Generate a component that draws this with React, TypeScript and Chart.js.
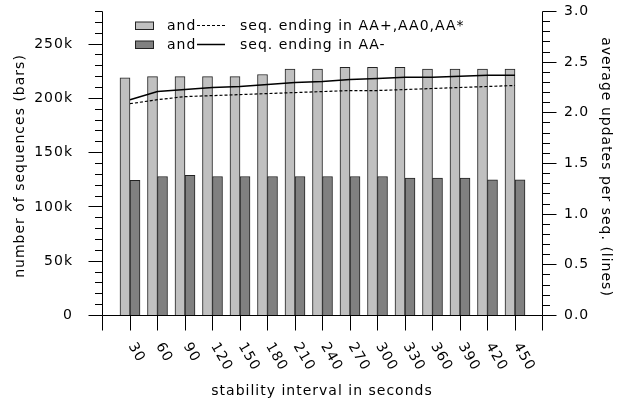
import React, { useEffect, useRef } from 'react';
import { Chart, registerables } from 'chart.js';

Chart.register(...registerables);

// ---------- data ----------
const categories = ['30', '60', '90', '120', '150', '180', '210', '240', '270', '300', '330', '360', '390', '420', '450'];
const seqAAplusCount = [219000, 220000, 220000, 220000, 220000, 222000, 227000, 227000, 228500, 228500, 228500, 227000, 227000, 227000, 227000];
const seqAAminusCount = [124500, 128000, 129000, 128000, 128000, 128000, 128000, 128000, 128000, 128000, 126500, 126500, 126500, 125000, 125000];
const avgUpdatesAAplus = [2.09, 2.13, 2.16, 2.17, 2.18, 2.19, 2.2, 2.21, 2.22, 2.22, 2.23, 2.24, 2.25, 2.26, 2.27];
const avgUpdatesAAminus = [2.13, 2.21, 2.23, 2.25, 2.26, 2.28, 2.3, 2.31, 2.33, 2.34, 2.35, 2.35, 2.36, 2.37, 2.37];

const leftTickValues = [0, 50000, 100000, 150000, 200000, 250000];
const leftTickLabels = ['0', '50k', '100k', '150k', '200k', '250k'];
const rightTickValues = [0, 0.5, 1.0, 1.5, 2.0, 2.5, 3.0];
const rightTickLabels = ['0.0', '0.5', '1.0', '1.5', '2.0', '2.5', '3.0'];

const legendLabelA = 'seq. ending in AA+,AA0,AA*';
const legendLabelB = 'seq. ending in AA-';
const xTitle = 'stability interval in seconds';
const yLeftTitle = 'number of sequences (bars)';
const yRightTitle = 'average updates per seq. (lines)';

// padded with empty slots at both ends (axis runs one step beyond first/last category)
const pad = <T,>(arr: T[]): (T | null)[] => [null, ...arr, null];
const xLabels = ['', ...categories, ''];

const FONT = '14px "DejaVu Sans"';
const LIGHT = '#c0c0c0';
const DARK = '#808080';
const INK = '#000000';

const axesPlugin = {
  id: 'gnuplotAxes',
  afterDraw(chart: any) {
    const ctx: any = chart.ctx;
    const { left, right, top, bottom } = chart.chartArea;
    const xs = chart.scales.x;
    const yl = chart.scales.y;
    const yr = chart.scales.y1;
    const crisp = (v: number) => Math.round(v - 0.5) + 0.5;
    ctx.save();
    ctx.strokeStyle = INK;
    ctx.fillStyle = INK;
    ctx.lineWidth = 1;
    ctx.setLineDash([]);

    // axis lines
    ctx.beginPath();
    ctx.moveTo(left, top);
    ctx.lineTo(left, bottom);
    ctx.moveTo(left, bottom);
    ctx.lineTo(right, bottom);
    ctx.moveTo(right, top);
    ctx.lineTo(right, bottom);
    ctx.stroke();

    // left ticks (minor every 10k, major every 50k)
    ctx.beginPath();
    for (let v = 0; v <= 280000; v += 10000) {
      const y = crisp(yl.getPixelForValue(v));
      const major = v % 50000 === 0;
      ctx.moveTo(left, y);
      ctx.lineTo(left - (major ? 14 : 7.5), y);
    }
    // right ticks (minor every 0.1, major every 0.5)
    for (let i = 0; i <= 30; i++) {
      const y = crisp(yr.getPixelForValue(i / 10));
      const major = i % 5 === 0;
      ctx.moveTo(right, y);
      ctx.lineTo(right + (major ? 14 : 7.5), y);
    }
    // x ticks at every slot
    for (let i = 0; i < xLabels.length; i++) {
      const x = crisp(xs.getPixelForValue(i));
      ctx.moveTo(x, bottom);
      ctx.lineTo(x, bottom + 15);
    }
    ctx.stroke();

    ctx.font = FONT;
    ctx.letterSpacing = '1px';
    // left tick labels
    ctx.textAlign = 'right';
    ctx.textBaseline = 'middle';
    leftTickValues.forEach((v, i) => {
      ctx.fillText(leftTickLabels[i], 73, yl.getPixelForValue(v));
    });
    // right tick labels
    ctx.textAlign = 'left';
    rightTickValues.forEach((v, i) => {
      ctx.fillText(rightTickLabels[i], 564, yr.getPixelForValue(v));
    });
    // x tick labels rotated clockwise
    categories.forEach((c, i) => {
      const x = xs.getPixelForValue(i + 1);
      ctx.save();
      ctx.translate(x + 1.5, 344);
      ctx.rotate(Math.PI / 3);
      ctx.textAlign = 'left';
      ctx.textBaseline = 'middle';
      ctx.fillText(c, 0, 0);
      ctx.restore();
    });

    // titles
    ctx.textAlign = 'center';
    ctx.textBaseline = 'middle';
    ctx.fillText(xTitle, 322, 391);
    ctx.save();
    ctx.translate(20, 166);
    ctx.rotate(-Math.PI / 2);
    ctx.fillText(yLeftTitle, 0, 0);
    ctx.restore();
    ctx.save();
    ctx.translate(606, 167);
    ctx.rotate(Math.PI / 2);
    ctx.fillText(yRightTitle, 0, 0);
    ctx.restore();

    // legend
    const rows = [
      { fill: LIGHT, dash: [3, 2], label: legendLabelA, y: 25.5 },
      { fill: DARK, dash: [] as number[], label: legendLabelB, y: 44.5 },
    ];
    rows.forEach((r) => {
      ctx.fillStyle = r.fill;
      ctx.fillRect(135.5, r.y - 3.5, 18, 7.5);
      ctx.strokeStyle = '#222';
      ctx.lineWidth = 1;
      ctx.setLineDash([]);
      ctx.strokeRect(135.5, r.y - 3.5, 18, 7.5);
      ctx.fillStyle = INK;
      ctx.textAlign = 'left';
      ctx.textBaseline = 'middle';
      ctx.fillText('and', 167, r.y + 0.5);
      ctx.beginPath();
      ctx.setLineDash(r.dash);
      ctx.lineWidth = r.dash.length ? 1.2 : 1.5;
      ctx.strokeStyle = INK;
      ctx.moveTo(197, r.y);
      ctx.lineTo(225, r.y);
      ctx.stroke();
      ctx.setLineDash([]);
      ctx.fillText(r.label, 240, r.y + 0.5);
    });
    ctx.restore();
  },
};

export default function App() {
  const ref = useRef<HTMLCanvasElement | null>(null);
  useEffect(() => {
    if (!ref.current) return;
    const chart = new Chart(ref.current, {
      type: 'bar',
      data: {
        labels: xLabels,
        datasets: [
          {
            type: 'line',
            label: 'avg ' + legendLabelB,
            data: pad(avgUpdatesAAminus),
            yAxisID: 'y1',
            borderColor: INK,
            borderWidth: 1.5,
            pointRadius: 0,
            tension: 0,
            order: 0,
          } as any,
          {
            type: 'line',
            label: 'avg ' + legendLabelA,
            data: pad(avgUpdatesAAplus),
            yAxisID: 'y1',
            borderColor: INK,
            borderWidth: 1.2,
            borderDash: [3, 2],
            pointRadius: 0,
            tension: 0,
            order: 0,
          } as any,
          {
            label: legendLabelA,
            data: pad(seqAAplusCount),
            yAxisID: 'y',
            backgroundColor: LIGHT,
            borderColor: '#222',
            borderWidth: 1,
            barThickness: 10,
            order: 1,
          },
          {
            label: legendLabelB,
            data: pad(seqAAminusCount),
            yAxisID: 'y',
            backgroundColor: DARK,
            borderColor: '#222',
            borderWidth: 1,
            barThickness: 10,
            order: 1,
          },
        ],
      },
      options: {
        animation: false,
        responsive: false,
        devicePixelRatio: 1,
        layout: { padding: { left: 102.5, right: 628 - 542.5, top: 11.5, bottom: 404 - 315.5 } },
        scales: {
          x: { type: 'category', display: false, offset: false, grid: { display: false } },
          y: { type: 'linear', display: false, min: 0, max: 280000, position: 'left' },
          y1: { type: 'linear', display: false, min: 0, max: 3, position: 'right' },
        },
        plugins: { legend: { display: false }, tooltip: { enabled: false } },
      },
      plugins: [axesPlugin],
    });
    return () => chart.destroy();
  }, []);
  return (
    <div style={{ position: 'fixed', left: 0, top: 0, width: 628, height: 404, background: '#fff' }}>
      <canvas ref={ref} width={628} height={404} style={{ display: 'block' }} />
    </div>
  );
}
